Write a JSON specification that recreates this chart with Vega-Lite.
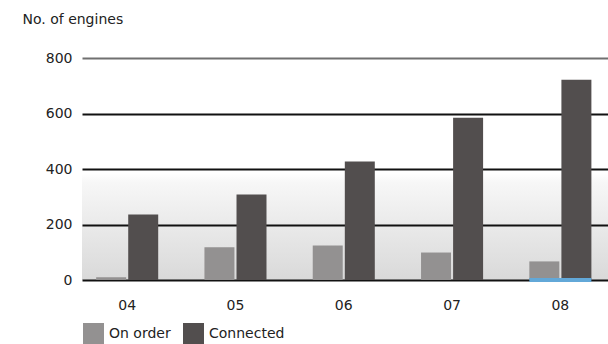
{
  "$schema": "https://vega.github.io/schema/vega-lite/v6.json",
  "width": 526,
  "height": 222,
  "autosize": "none",
  "padding": {"left": 82, "top": 58, "right": 0, "bottom": 64},
  "background": "#ffffff",
  "config": {
    "font": "DejaVu Sans",
    "view": {
      "stroke": null,
      "fill": {
        "gradient": "linear",
        "x1": 0, "y1": 0, "x2": 0, "y2": 1,
        "stops": [
          {"offset": 0, "color": "#ffffff"},
          {"offset": 0.52, "color": "#ffffff"},
          {"offset": 0.56, "color": "#f7f7f7"},
          {"offset": 1, "color": "#d9d9d9"}
        ]
      }
    }
  },
  "data": {
    "values": [
      {"year": "04", "series": "On order", "engines": 10},
      {"year": "04", "series": "Connected", "engines": 236},
      {"year": "05", "series": "On order", "engines": 118},
      {"year": "05", "series": "Connected", "engines": 308},
      {"year": "06", "series": "On order", "engines": 124},
      {"year": "06", "series": "Connected", "engines": 427},
      {"year": "07", "series": "On order", "engines": 99},
      {"year": "07", "series": "Connected", "engines": 585},
      {"year": "08", "series": "On order", "engines": 67},
      {"year": "08", "series": "Connected", "engines": 722}
    ]
  },
  "encoding": {
    "x": {
      "field": "year",
      "type": "nominal",
      "scale": {"paddingInner": 0.427, "paddingOuter": 0.142, "align": 0.46},
      "axis": {
        "title": null,
        "labelAngle": 0,
        "domain": false,
        "ticks": false,
        "labelFontSize": 14,
        "labelColor": "#222222",
        "labelPadding": 18
      }
    }
  },
  "layer": [
    {
      "mark": {"type": "bar"},
      "encoding": {
        "xOffset": {
          "field": "series",
          "type": "nominal",
          "sort": ["On order", "Connected"],
          "scale": {"paddingInner": 0.065}
        },
        "y": {
          "field": "engines",
          "type": "quantitative",
          "scale": {"domain": [0, 800], "nice": false},
          "axis": {
            "values": [0, 200, 400, 600, 800],
            "title": "No. of engines",
            "titleAngle": 0,
            "titleAlign": "left",
            "titleBaseline": "middle",
            "titleX": -60,
            "titleY": -39,
            "titleFontSize": 14,
            "titleFontWeight": "normal",
            "titleColor": "#222222",
            "labelFontSize": 14,
            "labelColor": "#222222",
            "labelPadding": 10,
            "domain": false,
            "ticks": false,
            "grid": true,
            "gridWidth": 2,
            "gridColor": {"condition": {"test": "datum.value === 800", "value": "#707070"}, "value": "#111111"},
            "gridOpacity": 1
          }
        },
        "color": {
          "field": "series",
          "type": "nominal",
          "scale": {"domain": ["On order", "Connected"], "range": ["#939191", "#524e4e"]},
          "legend": {
            "title": null,
            "orient": "none",
            "legendX": 1,
            "legendY": 265,
            "direction": "horizontal",
            "symbolType": "square",
            "symbolSize": 441,
            "symbolStrokeWidth": 0,
            "labelFontSize": 14,
            "labelColor": "#222222",
            "labelOffset": 5,
            "columnPadding": 12
          }
        }
      }
    },
    {
      "mark": {"type": "rule", "color": "#555252", "strokeWidth": 4},
      "encoding": {
        "y": {"datum": 0, "type": "quantitative"}
      }
    },
    {
      "data": {"values": [{"year": "08"}]},
      "mark": {"type": "tick", "orient": "horizontal", "color": "#62a8d8", "thickness": 4, "size": 62, "opacity": 1},
      "encoding": {
        "x": {"field": "year", "type": "nominal"},
        "y": {"datum": 0, "type": "quantitative"}
      }
    }
  ]
}
